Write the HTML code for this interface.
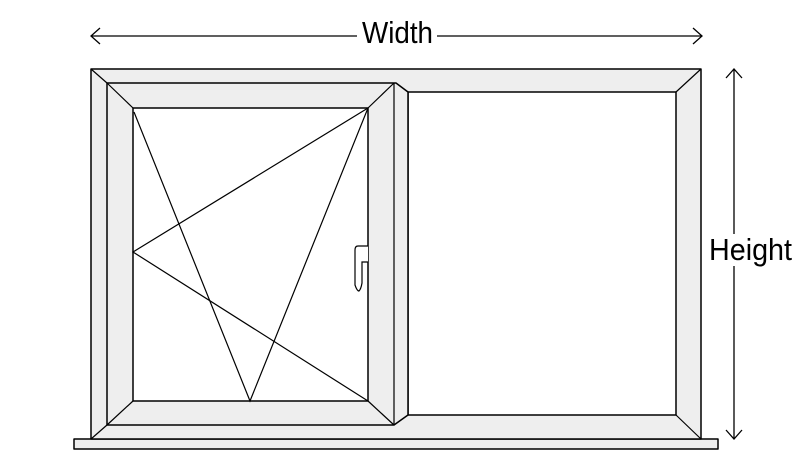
<!DOCTYPE html>
<html><head><style>html,body{margin:0;padding:0;background:#fff;}svg{display:block}</style></head>
<body>
<svg width="798" height="455" viewBox="0 0 798 455" xmlns="http://www.w3.org/2000/svg">
<g fill="none" stroke="#000" stroke-width="1.3">
<line x1="91" y1="36" x2="357" y2="36"/><line x1="437" y1="36" x2="702" y2="36"/>
<polyline points="100,28 91,36 100,44"/><polyline points="693,28 702,36 693,44"/>
<line x1="734" y1="69" x2="734" y2="234"/><line x1="734" y1="266" x2="734" y2="439"/>
<polyline points="726,78 734,69 742,78"/><polyline points="726,430 734,439 742,430"/>
</g>
<text x="362" y="43" font-family="Liberation Sans, sans-serif" font-size="31" textLength="71" lengthAdjust="spacingAndGlyphs">Width</text>
<text x="709" y="260" font-family="Liberation Sans, sans-serif" font-size="31" textLength="83" lengthAdjust="spacingAndGlyphs">Height</text>
<g stroke="#000" stroke-width="1.5" stroke-linejoin="round">
<rect x="74" y="439" width="644" height="10" fill="#eee"/>
<rect x="91" y="69" width="610" height="370" fill="#eee"/>
<rect x="408" y="92" width="268" height="323" fill="#fff"/>
<polygon points="107,83 396,83 408,92 408,415 394,425 107,425" fill="#eee"/>
<rect x="133" y="108" width="235" height="293" fill="#fff"/>
</g>
<g stroke="#000" stroke-width="1.2" fill="none">
<line x1="91" y1="69" x2="107" y2="83"/><line x1="91" y1="439" x2="107" y2="425"/>
<line x1="701" y1="69" x2="676" y2="92"/><line x1="701" y1="439" x2="676" y2="415"/>
<line x1="107" y1="83" x2="133" y2="108"/><line x1="394" y1="83" x2="368" y2="108"/>
<line x1="107" y1="425" x2="133" y2="401"/><line x1="394" y1="425" x2="368" y2="401"/>
<line x1="394" y1="83" x2="394" y2="425"/>
<polyline points="134,112 250,401 368,108"/>
<polyline points="368,108 133,252 368,401"/>
<path d="M368,246 L358,246 Q355,246 355,250 L355,285 Q357,291 359,291 Q361,289 362,283 L362,262 L368,262" fill="#fff"/>
</g>
</svg>
</body></html>
